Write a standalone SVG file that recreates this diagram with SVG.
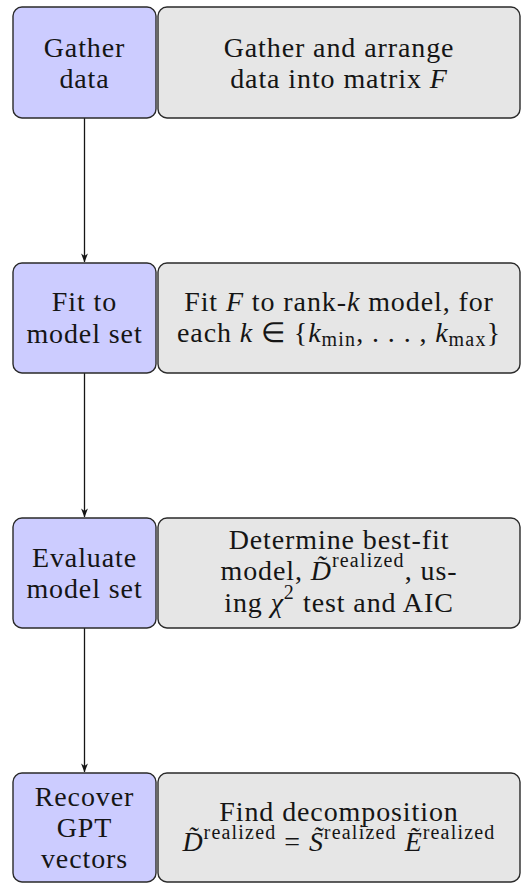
<svg xmlns="http://www.w3.org/2000/svg" width="522" height="884" viewBox="0 0 522 884">
  <style>
    .step { fill: #ccccff; stroke: #2a2a2a; stroke-width: 1.4; }
    .desc { fill: #e6e6e6; stroke: #2a2a2a; stroke-width: 1.4; }
    text { font-family: 'Liberation Serif', 'Times New Roman', serif; font-size: 28px; letter-spacing: 0.9px; fill: #151515; text-anchor: middle; }
    .i { font-style: italic; }
    .sup, .sub { font-size: 20px; letter-spacing: 1.2px; font-style: normal; }
    .link { stroke: #151515; stroke-width: 1.3; fill: none; marker-end: url(#head); }
  </style>
  <defs>
    <marker id="head" viewBox="0 0 10 10" refX="9.5" refY="5" markerWidth="9" markerHeight="9" markerUnits="userSpaceOnUse" orient="auto">
      <path d="M0,1.2 L10,5 L0,8.8 L2.8,5 Z" fill="#151515"/>
    </marker>
  </defs>

  <g id="connectors">
    <line class="link" x1="84.5" y1="118" x2="84.5" y2="262"/>
    <line class="link" x1="84.5" y1="373" x2="84.5" y2="517"/>
    <line class="link" x1="84.5" y1="628" x2="84.5" y2="772"/>
  </g>

  <g id="gather">
    <rect class="step" x="13" y="7" width="143" height="111" rx="9"/>
    <text x="84.5" y="57">Gather</text>
    <text x="84.5" y="88">data</text>
  </g>
  <g id="gather-desc">
    <rect class="desc" x="158" y="7" width="362" height="111" rx="9"/>
    <text x="339" y="57">Gather and arrange</text>
    <text x="339" y="88">data into matrix <tspan class="i">F</tspan></text>
  </g>

  <g id="fit">
    <rect class="step" x="13" y="263" width="143" height="110" rx="9"/>
    <text x="84.5" y="311">Fit to</text>
    <text x="84.5" y="343">model set</text>
  </g>
  <g id="fit-desc">
    <rect class="desc" x="158" y="263" width="362" height="110" rx="9"/>
    <text x="339" y="311">Fit <tspan class="i">F</tspan> to rank-<tspan class="i">k</tspan> model, for</text>
    <text x="339" y="342">each <tspan class="i">k</tspan> ∈ {<tspan class="i">k</tspan><tspan class="sub" dy="4">min</tspan><tspan dy="-4">, . . . , </tspan><tspan class="i">k</tspan><tspan class="sub" dy="4">max</tspan><tspan dy="-4">}</tspan></text>
  </g>

  <g id="evaluate">
    <rect class="step" x="13" y="518" width="143" height="110" rx="9"/>
    <text x="84.5" y="567">Evaluate</text>
    <text x="84.5" y="598">model set</text>
  </g>
  <g id="evaluate-desc">
    <rect class="desc" x="158" y="518" width="362" height="110" rx="9"/>
    <text x="339" y="549">Determine best-fit</text>
    <text x="339" y="580">model, <tspan class="i">D̃</tspan><tspan class="sup" dy="-13">realized</tspan><tspan dy="13">, us-</tspan></text>
    <text x="339" y="612">ing <tspan class="i">χ</tspan><tspan class="sup" dy="-13">2</tspan><tspan dy="13"> test and AIC</tspan></text>
  </g>

  <g id="recover">
    <rect class="step" x="13" y="773" width="143" height="109" rx="9"/>
    <text x="84.5" y="806">Recover</text>
    <text x="84.5" y="837">GPT</text>
    <text x="84.5" y="868">vectors</text>
  </g>
  <g id="recover-desc">
    <rect class="desc" x="158" y="773" width="362" height="109" rx="9"/>
    <text x="339" y="821">Find decomposition</text>
    <text x="339" y="851"><tspan class="i">D̃</tspan><tspan class="sup" dy="-12">realized</tspan><tspan dy="12"> = </tspan><tspan class="i">S̃</tspan><tspan class="sup" dy="-12">realized</tspan><tspan dy="12"> </tspan><tspan class="i">Ẽ</tspan><tspan class="sup" dy="-12">realized</tspan></text>
  </g>
</svg>
